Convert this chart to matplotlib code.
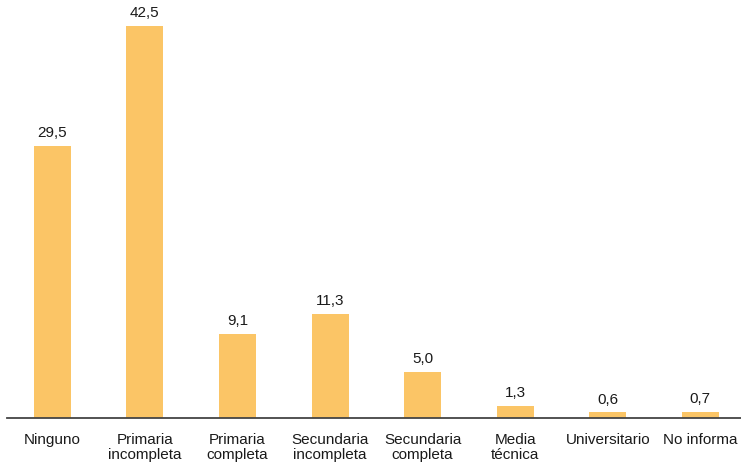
import matplotlib
matplotlib.use("Agg")
import matplotlib.pyplot as plt

categories = ["Ninguno", "Primaria\nincompleta", "Primaria\ncompleta", "Secundaria\nincompleta",
              "Secundaria\ncompleta", "Media\ntécnica", "Universitario", "No informa"]
values = [29.5, 42.5, 9.1, 11.3, 5.0, 1.3, 0.6, 0.7]

plt.rcParams['font.family'] = ['Liberation Sans', 'DejaVu Sans']

fig = plt.figure(figsize=(7.41, 4.64), dpi=100)
ax = fig.add_axes([7/741, 45/464, 1 - 7/741, 419/464])
x = list(range(len(categories)))
bars = ax.bar(x, values, width=0.4, color="#FBC566")
for xi, v in zip(x, values):
    ax.annotate(f"{v:.1f}".replace(".", ","), (xi, v), xytext=(0, 5), textcoords="offset points",
                ha="center", va="bottom", fontsize=11, color="#1a1a1a")
ax.set_xlim(-0.49, 7.44)
ax.set_ylim(0, 45.4)
ax.set_xticks(x)
ax.set_xticklabels(categories, fontsize=11, color="#1a1a1a", linespacing=1.1)
ax.tick_params(axis="x", length=0, pad=10)
ax.set_yticks([])
for s in ["top", "right", "left"]:
    ax.spines[s].set_visible(False)
ax.spines["bottom"].set_color("#444444")
ax.spines["bottom"].set_linewidth(1.3)
fig.savefig("out.png", dpi=100)
